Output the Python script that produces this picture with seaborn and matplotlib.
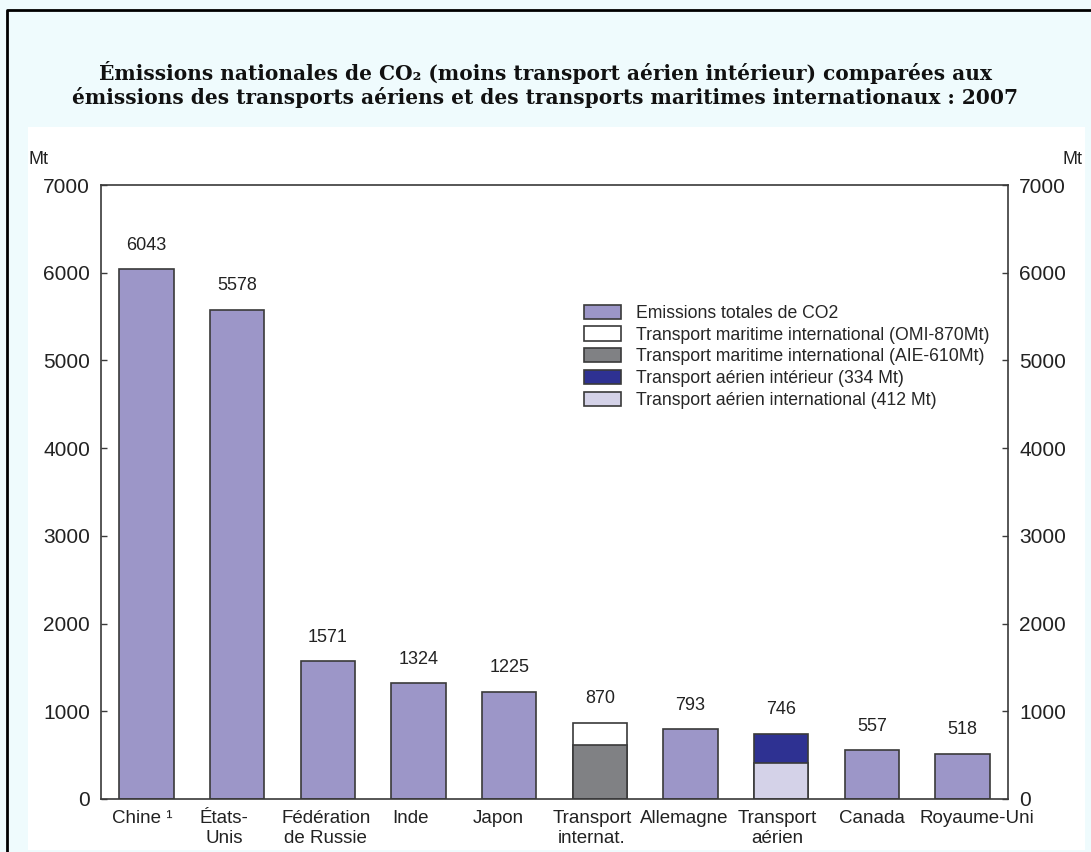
import matplotlib
matplotlib.use("Agg")
import matplotlib.pyplot as plt
import matplotlib.transforms as mtransforms
from matplotlib.patches import Patch, Rectangle
from matplotlib.lines import Line2D
import seaborn as sns
import pandas as pd

# data
categories = ["Chine ¹", "États-\nUnis", "Fédération\nde Russie", "Inde", "Japon",
              "Transport\ninternat.", "Allemagne", "Transport\naérien", "Canada", "Royaume-Uni"]
totals = [6043, 5578, 1571, 1324, 1225, 870, 793, 746, 557, 518]
lower_cats = ["Transport\ninternat.", "Transport\naérien"]
lower_vals = [610, 412]

legend_labels = ["Emissions totales de CO2",
                 "Transport maritime international (OMI-870Mt)",
                 "Transport maritime international (AIE-610Mt)",
                 "Transport aérien intérieur (334 Mt)",
                 "Transport aérien international (412 Mt)"]

purple = "#9c96c8"
white = "#ffffff"
grey = "#808184"
navy = "#2e3192"
lilac = "#d4d2e8"
edge = "#3a3a3a"

top_colors = [purple] * 10
top_colors[5] = white
top_colors[7] = navy
lower_colors = [grey, lilac]

# small horizontal nudges (pixels) of the category labels, as in the original layout
label_shift = [-4, -13, -2, -8, -11, -8, -6, -4, 0, 14]

df = pd.DataFrame({"cat": categories, "val": totals})
df_low = pd.DataFrame({"cat": lower_cats, "val": lower_vals})

sns.set_style("white")
plt.rcParams["font.family"] = ["Liberation Sans", "DejaVu Sans"]

fig = plt.figure(figsize=(10.91, 8.52), dpi=100)
fig.patch.set_facecolor("#effbfd")
W, H = 1091, 852

# white panel + black frame (kept below the axes)
fig.patches.append(Rectangle((28 / W, 1 - 850 / H), (1085 - 28) / W, (850 - 127) / H,
                             transform=fig.transFigure, facecolor="white", edgecolor="none", zorder=-10))
fig.lines.append(Line2D([7 / W, 7 / W, 1.0], [0, 1 - 10 / H, 1 - 10 / H],
                        transform=fig.transFigure, color="black", lw=2, zorder=-9))

ax = fig.add_axes([101 / W, 1 - 799 / H, (1008 - 101) / W, (799 - 185) / H])
ax.set_facecolor("white")
ax.set_zorder(5)

sns.barplot(data=df, x="cat", y="val", hue="cat", order=categories, hue_order=categories,
            palette=top_colors, saturation=1, width=0.6, edgecolor=edge, linewidth=1.2,
            legend=False, ax=ax)
sns.barplot(data=df_low, x="cat", y="val", hue="cat", order=categories, hue_order=lower_cats,
            palette=lower_colors, saturation=1, width=0.6, edgecolor=edge, linewidth=1.2,
            legend=False, ax=ax)

for i, v in enumerate(totals):
    ax.annotate(str(v), (i, v), xytext=(0, 11), textcoords="offset points",
                ha="center", va="bottom", fontsize=13, color="#222222")

ax.set_xlim(-0.5, 9.5)
ax.set_ylim(0, 7000)
ax.set_yticks(range(0, 7001, 1000))
ax.set_xlabel("")
ax.set_ylabel("")
ax.tick_params(axis="y", direction="in", length=4, width=1, color=edge, pad=8,
               left=True, right=True, labelleft=True, labelright=True, labelsize=15,
               labelcolor="#222222")
ax.tick_params(axis="x", length=0, pad=8, labelsize=13.5, labelcolor="#222222")
for lab, dx in zip(ax.get_xticklabels(), label_shift):
    lab.set_transform(lab.get_transform() + mtransforms.ScaledTranslation(dx / 100, 0, fig.dpi_scale_trans))
for s in ax.spines.values():
    s.set_visible(True)
    s.set_color(edge)
    s.set_linewidth(1.2)

handles = [Patch(facecolor=c, edgecolor=edge, linewidth=1.2)
           for c in [purple, white, grey, navy, lilac]]
ax.legend(handles, legend_labels, loc="upper left", bbox_to_anchor=(0.532, 0.805),
          frameon=False, fontsize=12.7, handlelength=2.1, handleheight=0.85,
          handletextpad=0.9, labelspacing=0.26, borderaxespad=0, borderpad=0)

fig.text(28 / W, 1 - 160 / H, "Mt", fontsize=13, ha="left", va="center", color="#222222")
fig.text(1082 / W, 1 - 160 / H, "Mt", fontsize=13, ha="right", va="center", color="#222222")

fig.text(0.5, 1 - 73 / H, "Émissions nationales de CO₂ (moins transport aérien intérieur) comparées aux",
         ha="center", va="center", fontsize=14.5, fontweight="bold", family="DejaVu Serif", color="#111111")
fig.text(0.5, 1 - 97 / H, "émissions des transports aériens et des transports maritimes internationaux : 2007",
         ha="center", va="center", fontsize=14.5, fontweight="bold", family="DejaVu Serif", color="#111111")

fig.savefig("out.png", dpi=100, facecolor=fig.get_facecolor())
